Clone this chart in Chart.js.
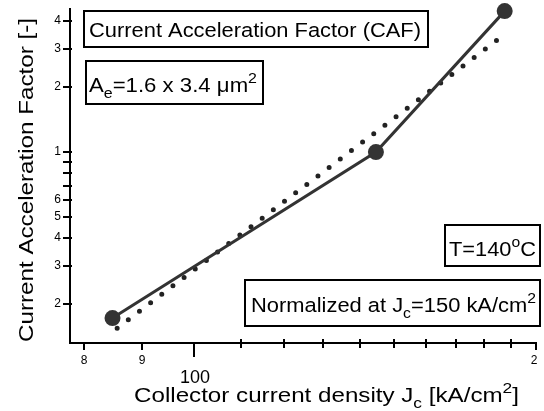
<!DOCTYPE html>
<html>
<head>
<meta charset="utf-8">
<script src="https://cdn.jsdelivr.net/npm/chart.js@4/dist/chart.umd.min.js"></script>
<style>
  html, body { margin: 0; padding: 0; background: #fff; }
  #wrap { width: 544px; height: 411px; }
</style>
</head>
<body>
<div id="wrap"><canvas id="caf" width="544" height="411"></canvas></div>
<script>
// measured CAF (solid line with markers)
var jcMeas = [84.8, 144.6, 187.7];
var cafMeas = [0.172, 1.0, 4.46];
// fitted power law (dotted line), end points
var jcFit = [85.6, 187.9];
var cafFit = [0.1545, 3.50];

// axis ticks
var xTicks = [80, 90, 100, 110, 120, 130, 140, 150, 160, 170, 180, 190, 200];
var xTickLabels = {80: "8", 90: "9", 200: "2"};
var yTicks = [0.2, 0.3, 0.4, 0.5, 0.6, 0.7, 0.8, 0.9, 1, 2, 3, 4];
var yTickLabels = {0.2: "2", 0.3: "3", 0.4: "4", 0.5: "5", 0.6: "6", 1: "1", 2: "2", 3: "3", 4: "4"};

function toPts(xs, ys) {
  var out = [];
  for (var i = 0; i < xs.length; i++) out.push({x: xs[i], y: ys[i]});
  return out;
}

var FONT = "Arial, 'Liberation Sans', sans-serif";

function partSize(p, size) {
  return p[1] == "n" ? size : size * 0.72;
}

// draws text made of pieces: [text, "n" | "sub" | "sup"], stretched to width w
function richText(ctx, parts, x, y, size, w) {
  var total = 0;
  parts.forEach(function(p) {
    ctx.font = partSize(p, size) + "px " + FONT;
    total += ctx.measureText(p[0]).width;
  });
  var sx = w ? w / total : 1;
  ctx.save();
  ctx.translate(x, y);
  ctx.scale(sx, 1);
  var cx = 0;
  parts.forEach(function(p) {
    var dy = 0;
    if (p[1] == "sub") dy = size * 0.28;
    if (p[1] == "sup") dy = -size * 0.45;
    ctx.font = partSize(p, size) + "px " + FONT;
    ctx.fillText(p[0], cx, dy);
    cx += ctx.measureText(p[0]).width;
  });
  ctx.restore();
}

function box(ctx, x1, y1, x2, y2) {
  ctx.lineWidth = 2;
  ctx.strokeStyle = "#000";
  ctx.strokeRect(x1, y1, x2 - x1, y2 - y1);
}

var decor = {
  id: "decor",
  beforeDraw: function(chart) {
    var ctx = chart.ctx;
    ctx.save();
    ctx.fillStyle = "#fff";
    ctx.fillRect(0, 0, chart.width, chart.height);
    ctx.restore();
  },
  afterDraw: function(chart) {
    var ctx = chart.ctx;
    var a = chart.chartArea;
    var xs = chart.scales.x, ys = chart.scales.y;
    ctx.save();
    ctx.strokeStyle = "#000";
    ctx.fillStyle = "#000";
    ctx.lineWidth = 2;
    // axes
    ctx.beginPath();
    ctx.moveTo(a.left, a.top);
    ctx.lineTo(a.left, a.bottom);
    ctx.lineTo(a.right, a.bottom);
    ctx.stroke();

    // y ticks
    ctx.textAlign = "right";
    ctx.textBaseline = "middle";
    ctx.font = "12px " + FONT;
    yTicks.forEach(function(v) {
      var py = Math.round(ys.getPixelForValue(v));
      ctx.beginPath();
      ctx.moveTo(a.left - 7, py);
      ctx.lineTo(a.left + 2, py);
      ctx.stroke();
      if (yTickLabels[v]) ctx.fillText(yTickLabels[v], a.left - 9, py);
    });

    // x ticks
    ctx.textAlign = "center";
    ctx.textBaseline = "top";
    xTicks.forEach(function(v) {
      var px = Math.round(xs.getPixelForValue(v));
      ctx.beginPath();
      if (v == 100) {
        ctx.moveTo(px, a.bottom - 1);
        ctx.lineTo(px, a.bottom + 14);
      } else if (xTickLabels[v]) {
        ctx.moveTo(px, a.bottom - 1);
        ctx.lineTo(px, a.bottom + 7);
      } else {
        ctx.moveTo(px, a.bottom - 4);
        ctx.lineTo(px, a.bottom + 5);
      }
      ctx.stroke();
      if (xTickLabels[v]) {
        ctx.font = "12px " + FONT;
        ctx.fillText(xTickLabels[v], v == 200 ? px - 2 : px, a.bottom + 12);
      }
    });
    ctx.font = "18px " + FONT;
    ctx.fillText("100", Math.round(xs.getPixelForValue(100)) + 1, a.bottom + 26);

    // axis titles
    ctx.textAlign = "left";
    ctx.textBaseline = "alphabetic";
    richText(ctx, [["Collector current density J", "n"], ["c", "sub"], [" [kA/cm", "n"], ["2", "sup"], ["]", "n"]], 134, 402, 21, 385);

    ctx.save();
    ctx.translate(33, 342);
    ctx.rotate(-Math.PI / 2);
    richText(ctx, [["Current Acceleration Factor [-]", "n"]], 0, 0, 21, 324);
    ctx.restore();

    // annotation boxes
    box(ctx, 84, 11, 428, 47);
    richText(ctx, [["Current Acceleration Factor (CAF)", "n"]], 89, 37, 20.5, 332);

    box(ctx, 86, 61, 263, 104);
    richText(ctx, [["A", "n"], ["e", "sub"], ["=1.6 x 3.4 \u03bcm", "n"], ["2", "sup"]], 89, 92, 20.5, 168);

    box(ctx, 445, 225, 540, 266);
    richText(ctx, [["T=140", "n"], ["o", "sup"], ["C", "n"]], 449, 256, 20.5, 87);

    box(ctx, 245, 280, 540, 326);
    richText(ctx, [["Normalized at J", "n"], ["c", "sub"], ["=150 kA/cm", "n"], ["2", "sup"]], 251, 312, 20.5, 285);

    ctx.restore();
  }
};

var chart = new Chart(document.getElementById("caf"), {
  type: "line",
  data: {
    datasets: [{
      label: "measured",
      data: toPts(jcMeas, cafMeas),
      borderColor: "#333",
      backgroundColor: "#333",
      borderWidth: 3,
      pointRadius: 8,
      pointHoverRadius: 8,
      pointBackgroundColor: "#333",
      pointBorderWidth: 0,
      clip: false,
      order: 0
    }, {
      label: "fit",
      data: toPts(jcFit, cafFit),
      borderColor: "#222",
      borderWidth: 5,
      borderDash: [0, 14],
      borderCapStyle: "round",
      pointRadius: 0,
      clip: false,
      order: 1
    }]
  },
  options: {
    responsive: false,
    animation: false,
    events: [],
    layout: { padding: { left: 70, right: 3, top: 8, bottom: 68 } },
    plugins: { legend: { display: false }, tooltip: { enabled: false } },
    scales: {
      x: { type: "logarithmic", min: 77.8, max: 200, display: false },
      y: { type: "logarithmic", min: 0.132, max: 4.61, display: false }
    }
  },
  plugins: [decor]
});
</script>
</body>
</html>
